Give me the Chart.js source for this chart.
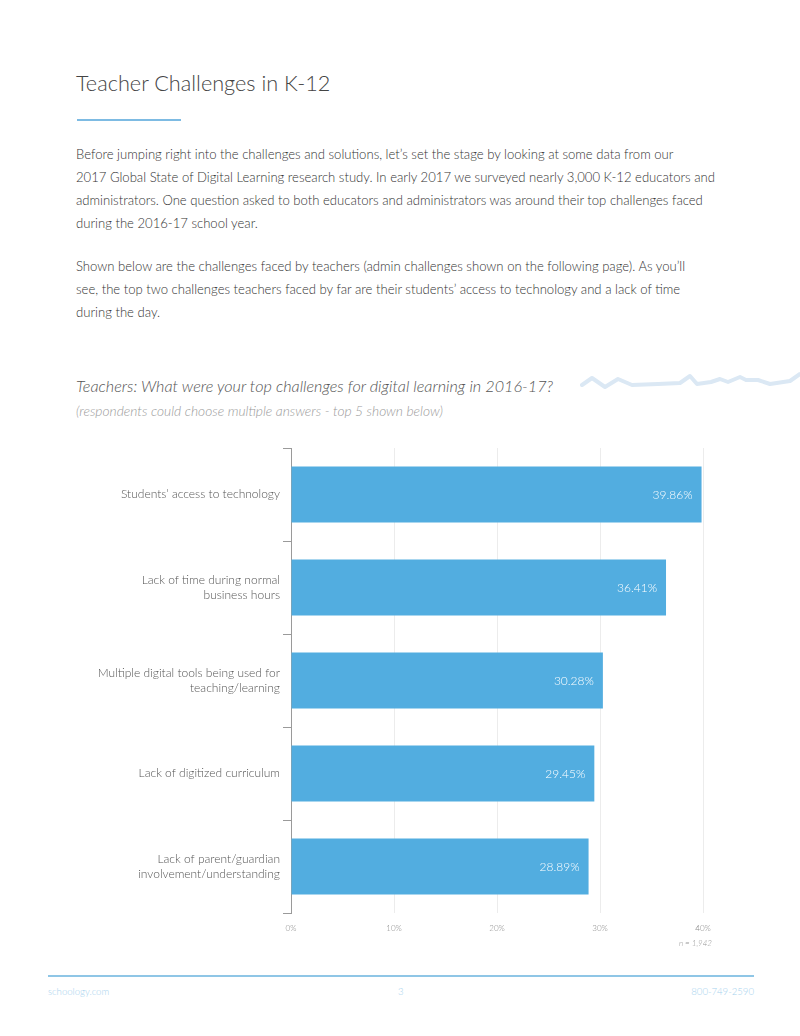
<!DOCTYPE html>
<html><head><meta charset="utf-8">
<script src="https://cdn.jsdelivr.net/npm/chart.js@4/dist/chart.umd.min.js"></script>
<style>
html,body{margin:0;padding:0;background:#fff;}
body{width:800px;height:1036px;position:relative;overflow:hidden;font-family:Lato,'Open Sans',sans-serif;font-weight:300;color:#3a3a3a;}
.abs{position:absolute;white-space:nowrap;}
#title{left:76px;top:70px;font-size:21.7px;color:#444;}
#rule{left:77px;top:119px;width:104px;height:2px;background:#7dbbe3;}
.p{left:76px;font-size:13.1px;line-height:23px;color:#333;}
#ctitle{left:76px;top:376px;font-size:16.2px;font-style:italic;color:#555;}
#csub{left:76px;top:402px;font-size:13.8px;font-style:italic;color:#9a9a9a;}
#n{left:640px;top:938px;width:72px;text-align:right;font-size:8px;font-style:italic;color:#999;}
#frule{left:48px;top:975px;width:706px;height:2px;background:#8fc6e6;}
.f{top:986px;font-size:9.6px;color:#a6d2ee;}
#wrap{position:absolute;left:0;top:440px;width:760px;height:503px;}
</style></head><body>
<div class="abs" id="title">Teacher Challenges in K-12</div>
<div class="abs" id="rule"></div>
<div class="abs p" style="top:143px">Before jumping right into the challenges and solutions, let’s set the stage by looking at some data from our<br>2017 Global State of Digital Learning research study. In early 2017 we surveyed nearly 3,000 K-12 educators and<br>administrators. One question asked to both educators and administrators was around their top challenges faced<br>during the 2016-17 school year.</div>
<div class="abs p" style="top:255px">Shown below are the challenges faced by teachers (admin challenges shown on the following page). As you’ll<br>see, the top two challenges teachers faced by far are their students’ access to technology and a lack of time<br>during the day.</div>
<svg class="abs" style="left:578px;top:368px" width="222" height="30"><polyline points="4,17 14,10 27,19 40,11 54,17 80,16 102,15 112,8 119,16 133,14 142,11 150,14 162,9 168,12 180,12 192,16 212,13 222,6" fill="none" stroke="#dbe8f4" stroke-width="4" stroke-linejoin="round" stroke-linecap="round"/></svg>
<div class="abs" id="ctitle">Teachers: What were your top challenges for digital learning in 2016-17?</div>
<div class="abs" id="csub">(respondents could choose multiple answers - top 5 shown below)</div>
<div id="wrap"><canvas id="c"></canvas></div>
<div class="abs" id="n">n = 1,942</div>
<div class="abs" id="frule"></div>
<div class="abs f" style="left:48px">schoology.com</div>
<div class="abs f" style="left:398px">3</div>
<div class="abs f" style="left:654px;width:100px;text-align:right">800-749-2590</div>
<script>
const categories = [
  "Students’ access to technology",
  ["Lack of time during normal", "business hours"],
  ["Multiple digital tools being used for", "teaching/learning"],
  "Lack of digitized curriculum",
  ["Lack of parent/guardian", "involvement/understanding"]
];
const values = [39.86, 36.41, 30.28, 29.45, 28.89];
const xTicks = [0, 10, 20, 30, 40];

const valueLabels = {
  id: 'valueLabels',
  afterDatasetsDraw(chart) {
    const ctx = chart.ctx;
    const meta = chart.getDatasetMeta(0);
    ctx.save();
    ctx.fillStyle = '#ffffff';
    ctx.font = '300 12px Lato';
    ctx.textAlign = 'right';
    ctx.textBaseline = 'middle';
    meta.data.forEach((bar, i) => {
      ctx.fillText(values[i].toFixed(2) + '%', bar.x - 9, bar.y + 1);
    });
    ctx.restore();
  }
};

new Chart(document.getElementById('c'), {
  type: 'bar',
  data: {
    labels: categories,
    datasets: [{
      data: values,
      backgroundColor: '#52ade0',
      borderWidth: 0,
      barPercentage: 0.6,
      categoryPercentage: 1.0
    }]
  },
  options: {
    indexAxis: 'y',
    responsive: true,
    maintainAspectRatio: false,
    animation: false,
    layout: { padding: { top: 8, right: 57, left: 0, bottom: 0 } },
    plugins: { legend: { display: false }, tooltip: { enabled: false } },
    scales: {
      x: {
        min: 0, max: 40,
        afterBuildTicks(s) { s.ticks = xTicks.map(v => ({ value: v })); },
        afterFit(s) { s.height = 30; },
        border: { display: false },
        grid: { color: '#ececec', lineWidth: 1, drawTicks: false },
        ticks: {
          padding: 11,
          color: '#888',
          font: { family: 'Lato', size: 8, weight: '300' },
          callback: v => v + '%'
        }
      },
      y: {
        afterFit(s) { s.width = 291; s.paddingTop = 0; s.paddingBottom = 0; },
        border: { display: true, color: '#9a9a9a', width: 1 },
        grid: { offset: true, drawOnChartArea: false, drawTicks: true, tickLength: 8, color: '#9a9a9a' },
        ticks: {
          padding: 3,
          color: '#555',
          font: { family: 'Lato', size: 12, weight: '300', lineHeight: 1.3 }
        }
      }
    }
  },
  plugins: [valueLabels]
});
</script>
</body></html>
